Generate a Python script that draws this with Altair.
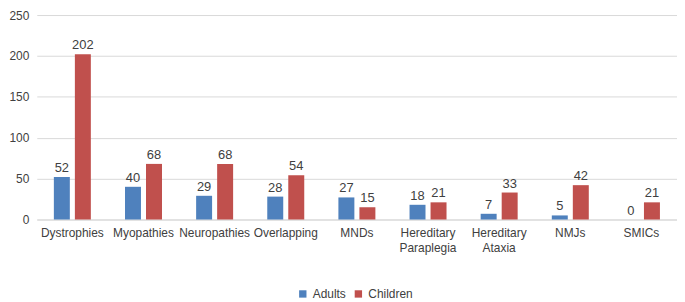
import altair as alt
import pandas as pd

categories = ["Dystrophies", "Myopathies", "Neuropathies", "Overlapping", "MNDs",
              "Hereditary Paraplegia", "Hereditary Ataxia", "NMJs", "SMICs"]
adults = [52, 40, 29, 28, 27, 18, 7, 5, 0]
children = [202, 68, 68, 54, 15, 21, 33, 42, 21]
groups = ["Adults", "Children"]
colors = ["#4F81BD", "#C0504D"]

rows = []
for c, a, ch in zip(categories, adults, children):
    rows.append({"category": c, "group": "Adults", "value": a})
    rows.append({"category": c, "group": "Children", "value": ch})
df = pd.DataFrame(rows)

FONT = "Liberation Sans"
TXT = "#404040"

x = alt.X("category:N", sort=categories, title=None,
          scale=alt.Scale(paddingInner=0.48, paddingOuter=0.24),
          axis=alt.Axis(labelAngle=0, labelExpr="split(datum.label, ' ')",
                        domainColor="#d9d9d9", ticks=False, labelPadding=8,
                        labelFontSize=12, labelColor=TXT, labelFont=FONT,
                        labelLineHeight=15))
xoff = alt.XOffset("group:N", sort=groups,
                   scale=alt.Scale(paddingInner=0.24, paddingOuter=0))
y = alt.Y("value:Q", title=None,
          scale=alt.Scale(domain=[0, 250], nice=False),
          axis=alt.Axis(values=[0, 50, 100, 150, 200, 250], domain=False, ticks=False,
                        gridColor="#d9d9d9", labelPadding=8, labelFontSize=12,
                        labelColor=TXT, labelFont=FONT))

base = alt.Chart(df)
bars = base.mark_bar().encode(
    x=x, xOffset=xoff, y=y,
    color=alt.Color("group:N", sort=groups,
                    scale=alt.Scale(domain=groups, range=colors),
                    legend=alt.Legend(title=None, orient="none", direction="horizontal",
                                      legendX=262, legendY=275,
                                      symbolType="square", symbolSize=55,
                                      labelFontSize=12, labelColor=TXT, labelFont=FONT,
                                      columnPadding=6))
)
labels = base.mark_text(dy=-9, fontSize=13, color=TXT, font=FONT).encode(
    x=x, xOffset=xoff, y=y, text="value:Q"
)

chart = (bars + labels).properties(width=645, height=206, padding=0).configure_view(
    stroke=None
)

chart.save("out.html", embed_options={"renderer": "svg", "actions": False})
